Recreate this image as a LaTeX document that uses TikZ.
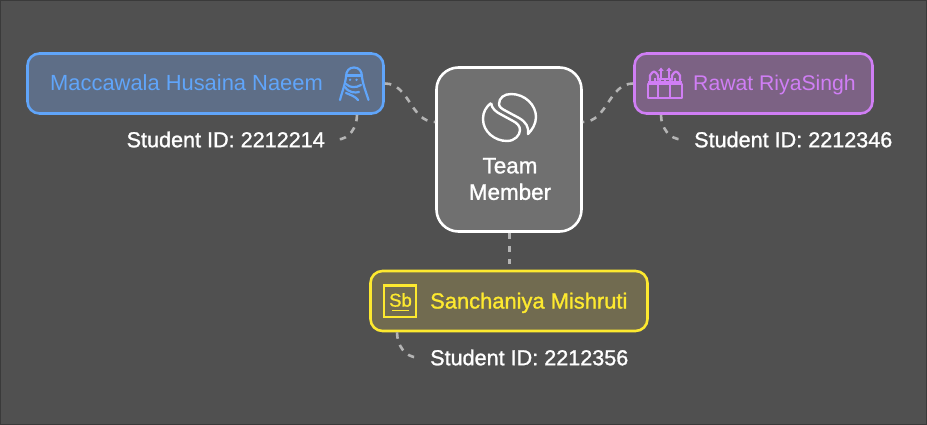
\documentclass[tikz,border=0pt]{standalone}
\usepackage{xcolor}
\usepackage{fontspec}
\setmainfont{Liberation Sans}
\newfontfamily\medfont[FakeBold=1.2]{Liberation Sans}
\usetikzlibrary{positioning}
\definecolor{bgcol}{HTML}{505050}
\definecolor{edgecol}{HTML}{3A3A3A}
\definecolor{linkcol}{HTML}{B4B4B4}
\definecolor{teamfill}{HTML}{707070}
\definecolor{bluecol}{HTML}{60A5FA}
\definecolor{bluefill}{HTML}{5E6E87}
\definecolor{purplecol}{HTML}{D07EF5}
\definecolor{purplefill}{HTML}{7C6284}
\definecolor{yellowcol}{HTML}{FDE92F}
\definecolor{yellowfill}{HTML}{716B50}
\tikzset{
  membox/.style={line width=2.6pt,rounded corners=12pt,minimum height=60pt,inner sep=0pt},
  link/.style={draw=linkcol,line width=2.6pt,dash pattern=on 6.5pt off 6.5pt},
  nametext/.style={font=\fontsize{21.9}{26}\selectfont,inner sep=0pt,anchor=base west},
  idtext/.style={font=\fontsize{21.6}{26}\medfont,text=white,inner ysep=0pt,inner xsep=12pt},
  icon/.style={draw=#1,line width=2.2pt,line join=round,line cap=round}
}
\begin{document}
\begin{tikzpicture}[x=1pt,y=-1pt,on grid]
   \useasboundingbox (0,0) rectangle (927,425);
   \fill[bgcol] (0,0) rectangle (927,425);
   \draw[edgecol,line width=1pt] (0.5,0.5) rectangle (926.5,424.5);
   % boxes
   \node[draw=white,fill=teamfill,line width=2.6pt,rounded corners=22pt,minimum width=145pt,minimum height=164pt] (team) at (509,149.5) {};
   \node[membox,draw=bluecol,fill=bluefill,minimum width=356pt] (husaina) [above left=66pt and 303.5pt of team] {};
   \node[membox,draw=purplecol,fill=purplefill,minimum width=238pt] (riya) [above right=66pt and 244.5pt of team] {};
   \node[membox,draw=yellowcol,fill=yellowfill,minimum width=277pt] (mishruti) [below=151.5pt of team] {};
   % texts
   \node[font=\fontsize{22.4}{26.5}\medfont,text=white,align=center,inner sep=0pt] (teamtext) at (510,179) {Team\\Member};
   \node[nametext,text=bluecol] (husainatext) at (50,90.5) {Maccawala Husaina Naeem};
   \node[nametext,text=purplecol,font=\fontsize{21.2}{26}\selectfont] (riyatext) at (693,90.5) {Rawat RiyaSingh};
   \node[nametext,text=yellowcol,font=\fontsize{21.9}{26}\medfont] (mishrutitext) at (430,308.5) {Sanchaniya Mishruti};
   \node[idtext,anchor=east] (idhusaina) at (337,139.5) {Student ID: 2212214};
   \node[idtext,anchor=west] (idriya) at (682,139.5) {Student ID: 2212346};
   \node[idtext,anchor=west] (idmishruti) at (418,357.5) {Student ID: 2212356};
   % connectors
   \path[link]
    (husaina.east) edge[out=0,in=180] ([yshift=27.5pt]team.west)
    (riya.west) edge[out=180,in=0] ([yshift=27.5pt]team.east)
    ([xshift=.5pt]team.south) edge ([xshift=.5pt,yshift=6pt]mishruti.north)
    ([xshift=151.5pt]husaina.south) edge[out=-90,in=0] (idhusaina.east)
    ([xshift=-92.5pt]riya.south) edge[out=-90,in=180] (idriya.west)
    ([xshift=-112pt]mishruti.south) edge[out=-90,in=180] (idmishruti.west);
   % team logo
   \draw[white,line width=2.4pt,line join=round]
    (499,104) .. controls (499,98) and (504,94) .. (511,94)
    .. controls (525,94) and (536,105) .. (536,117)
    .. controls (536,124) and (532,130) .. (528,134)
    .. controls (529,127) and (526,122) .. (519,118)
    -- (506,111) .. controls (502,109) and (499,107) .. (499,104);
   \draw[white,line width=2.4pt,line join=round]
    (491,103) .. controls (486,107) and (483,112) .. (483,119)
    .. controls (483,132) and (495,141) .. (507,141)
    .. controls (515,141) and (520,135) .. (520,130)
    .. controls (520,126) and (517,123) .. (513,121)
    -- (502,115) .. controls (496,112) and (492,109) .. (491,103);
   % hijab icon
   \draw[icon=bluecol] (346,77) .. controls (346,71) and (349,67.5) .. (354,67.5) .. controls (359,67.5) and (362,71) .. (362,77)
    .. controls (363,85) and (366,92) .. (368.5,100);
   \draw[icon=bluecol] (346,77) .. controls (345,85) and (342,92) .. (340,100);
   \draw[icon=bluecol] (346,75.5) -- (362,75.5);
   \draw[icon=bluecol] (346,84) .. controls (350,88) and (356,88) .. (361,85);
   \draw[icon=bluecol] (345,87) .. controls (349,93) and (355,93) .. (359,92) (346,93) .. controls (351,95) and (356,97) .. (358,100);
   \fill[bluecol] (350,79.8) circle (1.3pt) (356.5,79.8) circle (1.3pt);
   % castle icon
   \draw[icon=purplecol,line cap=butt] (648,84) rectangle (682,98);
   \draw[icon=purplecol,line cap=butt] (658,84) -- (658,98) (670,84) -- (670,98);
   \fill[purplecol] (648,81) rectangle (682,85);
   \foreach \x in {650,655,660,665,670,675,680} {
     \draw[purplecol,line width=2.6pt] (\x,83) -- (\x,78.5);
   }
   \draw[icon=purplecol] (650,80) -- (650,75.5) .. controls (651,73) and (653,72) .. (654,71.5) .. controls (655,72) and (657,73) .. (658,75.5) -- (658,80);
   \draw[icon=purplecol] (672,80) -- (672,75.5) .. controls (673,73) and (675,72) .. (676,71.5) .. controls (677,72) and (679,73) .. (680,75.5) -- (680,80);
   \draw[icon=purplecol] (660,79) -- (670,79);
   \foreach \x in {661,669} {
     \draw[icon=purplecol,line width=1.8pt] (\x,79) -- (\x,70);
     \fill[purplecol] (\x-2.8,71) -- (\x,67.5) -- (\x+2.8,71) -- cycle;
   }
   % sb icon
   \draw[yellowcol,line width=2.6pt] (384,285.5) rectangle (416,317);
   \node[text=yellowcol,font=\fontsize{18.5}{18}\medfont,inner sep=0pt] (sbtext) at (400.5,300) {Sb};
   \draw[yellowcol,line width=1.8pt] (392,310.5) -- (409,310.5);
\end{tikzpicture}
\end{document}
